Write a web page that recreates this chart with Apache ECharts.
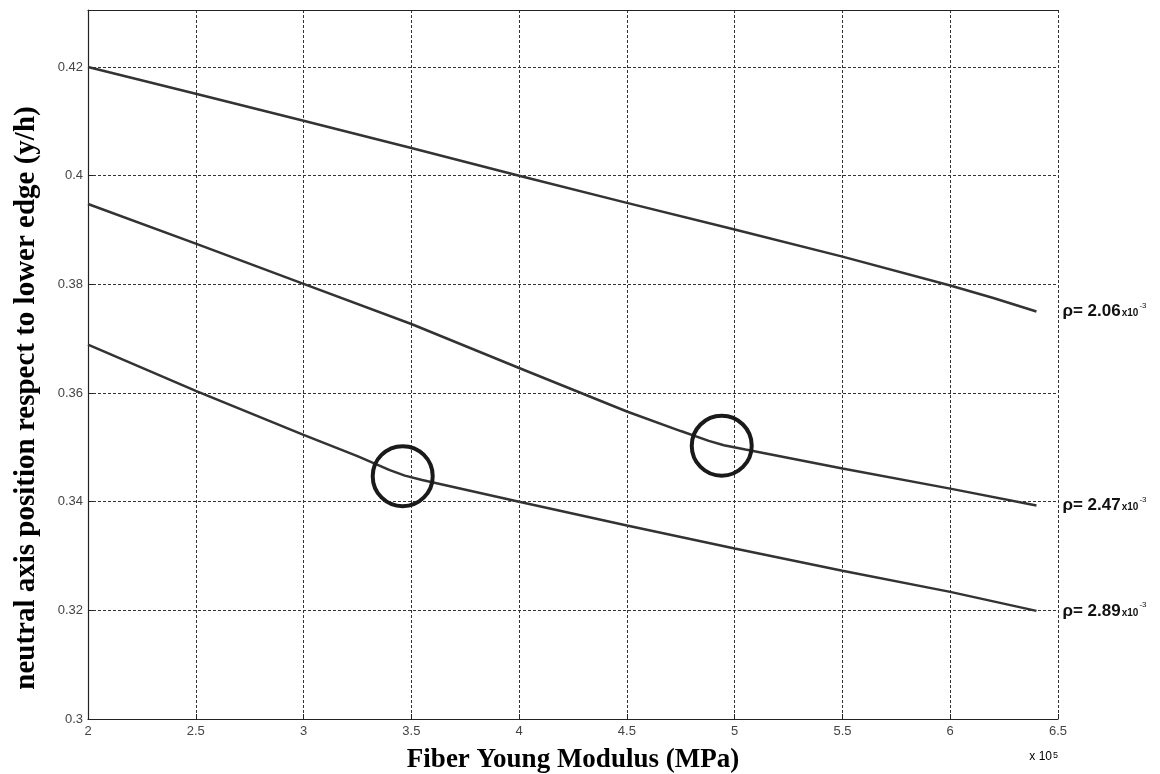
<!DOCTYPE html>
<html>
<head>
<meta charset="utf-8">
<script src="https://cdn.jsdelivr.net/npm/echarts@6/dist/echarts.min.js"></script>
<style>html,body{margin:0;padding:0;background:#fff;}#c{width:1160px;height:774px;}</style>
</head>
<body>
<div id="c"></div>
<script>
// x values are in units of 10^5 MPa
const x206 = [2, 2.5, 3, 3.5, 4, 4.5, 5, 5.5, 6, 6.2, 6.4];
const y206 = [0.4200, 0.4151, 0.4101, 0.4051, 0.4000, 0.3950, 0.3901, 0.3851, 0.3798, 0.3775, 0.3750];

const x247 = [2, 2.5, 3, 3.5, 4, 4.5, 4.75, 4.88, 4.95, 5.05, 5.5, 6, 6.4];
const y247 = [0.3948, 0.3875, 0.3801, 0.3727, 0.3646, 0.3566, 0.3530, 0.3512, 0.3504, 0.3496, 0.3461, 0.3424, 0.3393];

const x289 = [2, 2.5, 3, 3.25, 3.4, 3.47, 3.55, 4, 4.5, 5, 5.5, 6, 6.4];
const y289 = [0.3689, 0.3604, 0.3523, 0.3484, 0.3458, 0.3448, 0.3440, 0.3400, 0.3356, 0.3314, 0.3273, 0.3234, 0.3199];

const seriesNames = ['2.06', '2.47', '2.89'];
const circleX = [3.46, 4.94];
const circleY = [0.3447, 0.3503];

const xTitle = 'Fiber Young Modulus (MPa)';
const yTitle = 'neutral axis position respect to lower edge (y/h)';

const pairs = (xs, ys) => xs.map((v, i) => [v, ys[i]]);

const chart = echarts.init(document.getElementById('c'), null, {renderer: 'canvas'});

const lineStyle = {color: '#333', width: 2.5};
const endLabel = {
  show: true,
  distance: 26,
  formatter: p => '{m|\u03c1= ' + p.seriesName + '}{s|x10}{u|-3}',
  rich: {
    m: {fontFamily: 'Liberation Sans, Arial', fontWeight: 'bold', fontSize: 17, color: '#111', lineHeight: 20},
    s: {fontFamily: 'Liberation Sans, Arial', fontWeight: 'bold', fontSize: 10, color: '#111', lineHeight: 10, verticalAlign: 'bottom', padding: [0,0,3,1]},
    u: {fontFamily: 'Liberation Sans, Arial', fontSize: 8, color: '#111', lineHeight: 8, verticalAlign: 'top', padding: [0,0,0,1]}
  }
};

const mk = (name, xs, ys, extra) => Object.assign({
  name: name,
  type: 'line',
  data: pairs(xs, ys),
  showSymbol: false,
  symbol: 'none',
  smooth: false,
  lineStyle: lineStyle,
  itemStyle: {color: '#333'},
  endLabel: endLabel,
  emphasis: {disabled: true},
  animation: false,
  z: 3
}, extra || {});

const circleMark = (cx, cy) => ({
  symbol: 'circle', symbolSize: 60, silent: true, animation: false,
  itemStyle: {color: 'rgba(0,0,0,0)', borderColor: '#1a1a1a', borderWidth: 4},
  label: {show: false},
  data: [{coord: [cx, cy]}]
});

chart.setOption({
  animation: false,
  backgroundColor: '#fff',
  grid: {left: 88, right: 102, top: 10, bottom: 55, containLabel: false, outerBoundsMode: 'none'},
  xAxis: [{
    type: 'value', min: 2, max: 6.5, interval: 0.5,
    axisLine: {show: true, onZero: false, lineStyle: {color: '#222', width: 1.2}},
    axisTick: {show: true, inside: true, length: 5, lineStyle: {color: '#222'}},
    axisLabel: {color: '#444', fontFamily: 'Liberation Sans, Arial', fontSize: 13, margin: 6},
    splitLine: {show: true, lineStyle: {color: '#333', width: 1, type: [3, 2]}},
    name: xTitle, nameLocation: 'middle', nameGap: 28,
    nameTextStyle: {fontFamily: 'Liberation Serif, Times New Roman', fontWeight: 'bold', fontSize: 27, color: '#000'}
  }, {
    type: 'value', position: 'top', min: 2, max: 6.5, interval: 0.5,
    axisLine: {show: true, onZero: false, lineStyle: {color: '#222', width: 1.2}},
    axisTick: {show: false}, axisLabel: {show: false}, splitLine: {show: false}
  }],
  yAxis: {
    type: 'value', min: 0.3, max: 0.4305, interval: 0.02,
    axisLine: {show: true, onZero: false, lineStyle: {color: '#222', width: 1.2}},
    axisTick: {show: true, inside: true, length: 5, lineStyle: {color: '#222'}},
    axisLabel: {
      color: '#444', fontFamily: 'Liberation Sans, Arial', fontSize: 13, margin: 5,
      formatter: v => {
        const k = Math.round(v / 0.02);
        return Math.abs(v - k * 0.02) < 1e-6 ? String(+v.toFixed(2)) : '';
      }
    },
    splitLine: {show: true, lineStyle: {color: '#333', width: 1, type: [3, 2]}}
  },
  series: [
    mk(seriesNames[0], x206, y206),
    mk(seriesNames[1], x247, y247, {markPoint: circleMark(circleX[1], circleY[1])}),
    mk(seriesNames[2], x289, y289, {markPoint: circleMark(circleX[0], circleY[0])})
  ],
  graphic: [{
    type: 'text', x: 27, y: 398, rotation: Math.PI / 2,
    style: {
      text: yTitle, align: 'center', verticalAlign: 'middle',
      fontFamily: 'Liberation Serif, Times New Roman', fontWeight: 'bold', fontSize: 29, fill: '#000'
    }
  }, {
    type: 'text', right: 102, bottom: 6,
    style: {
      text: '{a|x 10}{b|5}',
      rich: {
        a: {fontFamily: 'Liberation Sans, Arial', fontSize: 12, color: '#555', lineHeight: 12, verticalAlign: 'bottom'},
        b: {fontFamily: 'Liberation Sans, Arial', fontSize: 9, color: '#555', lineHeight: 9, verticalAlign: 'top', padding: [0, 0, 8, 1]}
      }
    }
  }]
});
</script>
</body>
</html>
